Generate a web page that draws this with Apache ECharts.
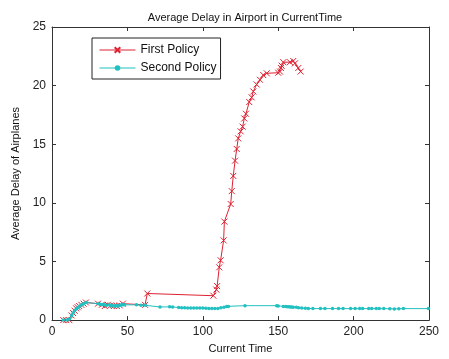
<!DOCTYPE html>
<html>
<head>
<meta charset="utf-8">
<script src="https://cdn.jsdelivr.net/npm/echarts@6/dist/echarts.min.js"></script>
<style>
  html, body { margin: 0; padding: 0; background: #fff; }
  #chart { width: 449px; height: 359px; }
</style>
</head>
<body>
<div id="chart"></div>
<script>
// [time, delay] pairs
var firstPolicy = [
  [7.5, 0], [9.5, 0], [11.5, 0], [13, 0.4], [14, 0.6], [15, 0.8], [16, 1.0], [17, 1.1],
  [18, 1.2], [19.5, 1.3], [21, 1.4], [22.5, 1.5], [30.5, 1.4], [33, 1.3], [35, 1.2],
  [37, 1.3], [39, 1.25], [41, 1.2], [43, 1.2], [45, 1.25], [47, 1.4], [61.7, 1.3],
  [63.2, 2.27], [107, 2.08], [109, 2.6], [109.5, 2.9], [110.9, 4.5], [111.8, 5.1],
  [113.8, 6.8], [114.3, 8.4], [118.5, 9.9], [119.2, 11.0], [120.2, 12.3], [121.4, 13.6],
  [122.5, 14.6], [123.5, 15.5], [125.1, 16.1], [126.4, 16.5], [127.5, 17.2], [128.6, 17.6],
  [130.8, 18.6], [132.4, 19.0], [133.5, 19.5], [135.7, 20.1], [137.9, 20.5], [140.1, 20.9],
  [142.4, 21.05], [150, 21.1], [151.2, 21.2], [151.8, 21.5], [152.3, 21.7], [153.4, 22.0],
  [157.8, 22.0], [160, 22.1], [161.1, 21.9], [163.3, 21.5], [164.9, 21.2]
];
var secondPolicy = [
  [7.5, 0], [10, 0], [11.5, 0.1], [13, 0.4], [14, 0.6], [15, 0.8], [16, 0.95], [17, 1.05],
  [18, 1.15], [19, 1.25], [20, 1.35], [21, 1.4], [22.5, 1.5], [30.5, 1.4], [32, 1.35],
  [33, 1.3], [34, 1.35], [35, 1.3], [36, 1.25], [38, 1.3], [39, 1.2], [40, 1.25], [41, 1.2],
  [42, 1.2], [43, 1.25], [44, 1.2], [45, 1.25], [46, 1.3], [47, 1.3], [48, 1.3], [56, 1.3],
  [59, 1.27], [62, 1.26], [71.6, 1.12], [78, 1.13], [80, 1.12], [84, 1.08], [86, 1.06],
  [88, 1.05], [90, 1.04], [92, 1.04], [94, 1.03], [96, 1.04], [98, 1.04], [100, 1.03],
  [102, 1.02], [104, 1.0], [106, 1.0], [108, 1.0], [110, 0.98], [112, 1.05], [114, 1.1],
  [115.8, 1.17], [117, 1.17], [128, 1.23], [149, 1.23], [150, 1.2], [153.4, 1.17],
  [155, 1.15], [156, 1.14], [157, 1.14], [158, 1.12], [159, 1.12], [160, 1.1], [162, 1.1],
  [163.5, 1.06], [165.6, 1.04], [168, 1.02], [170, 1.0], [173, 0.98], [178, 0.98],
  [181, 0.98], [186, 0.98], [190, 0.98], [193, 0.98], [198, 0.98], [201, 0.98], [204, 0.98],
  [206, 0.98], [210, 0.98], [212, 0.98], [215, 0.98], [217, 0.98], [220, 0.98], [224, 0.97],
  [227, 0.95], [230, 0.97], [233, 0.98], [249.6, 0.98]
];
var xTicks = [0, 50, 100, 150, 200, 250];
var yTicks = [0, 5, 10, 15, 20, 25];

var font = 'Liberation Sans, Arial, sans-serif';
var red = '#dd2233';
var cyan = '#22c0c0';

function axis(pos, ticks, showLabel, name) {
  return {
    type: 'value',
    position: pos,
    min: ticks[0],
    max: ticks[ticks.length - 1],
    interval: ticks[1] - ticks[0],
    name: name || '',
    nameLocation: 'middle',
    nameGap: pos === 'left' ? 27 : 19,
    nameTextStyle: {color: '#111', fontFamily: font, fontSize: 11},
    axisLine: {show: true, onZero: false, lineStyle: {color: '#333', width: 1}},
    axisTick: {show: true, inside: true, length: 4, lineStyle: {color: '#333'}},
    axisLabel: {show: showLabel, color: '#222', fontFamily: font, fontSize: 12, margin: 6},
    splitLine: {show: false}
  };
}

var myChart = echarts.init(document.getElementById('chart'));
myChart.setOption({
  animation: false,
  backgroundColor: '#fff',
  title: {
    text: 'Average Delay in Airport in CurrentTime',
    left: 240, top: 7, textAlign: 'center',
    textStyle: {color: '#111', fontFamily: font, fontSize: 11, fontWeight: 'normal'}
  },
  legend: {
    left: 92, top: 38,
    orient: 'vertical',
    itemWidth: 36, itemHeight: 7, itemGap: 6,
    padding: [6, 4, 5, 7],
    borderColor: '#222', borderWidth: 1,
    backgroundColor: '#fff',
    lineStyle: {width: 1},
    textStyle: {color: '#111', fontFamily: font, fontSize: 12},
    data: ['First Policy', 'Second Policy']
  },
  grid: {left: 52, right: 20, top: 27, bottom: 28},
  xAxis: [
    axis('bottom', xTicks, true, 'Current Time'),
    axis('top', xTicks, false)
  ],
  yAxis: [
    axis('left', yTicks, true, 'Average Delay of Airplanes'),
    axis('right', yTicks, false)
  ],
  series: [
    {
      name: 'First Policy',
      type: 'line',
      data: firstPolicy,
      symbol: 'path://M0,0L10,10M10,0L0,10',
      symbolSize: 6,
      itemStyle: {color: red, borderColor: red, borderWidth: 1},
      lineStyle: {color: red, width: 1}
    },
    {
      name: 'Second Policy',
      type: 'line',
      data: secondPolicy,
      symbol: 'circle',
      symbolSize: 3.5,
      itemStyle: {color: cyan},
      lineStyle: {color: cyan, width: 1}
    }
  ]
});
</script>
</body>
</html>
